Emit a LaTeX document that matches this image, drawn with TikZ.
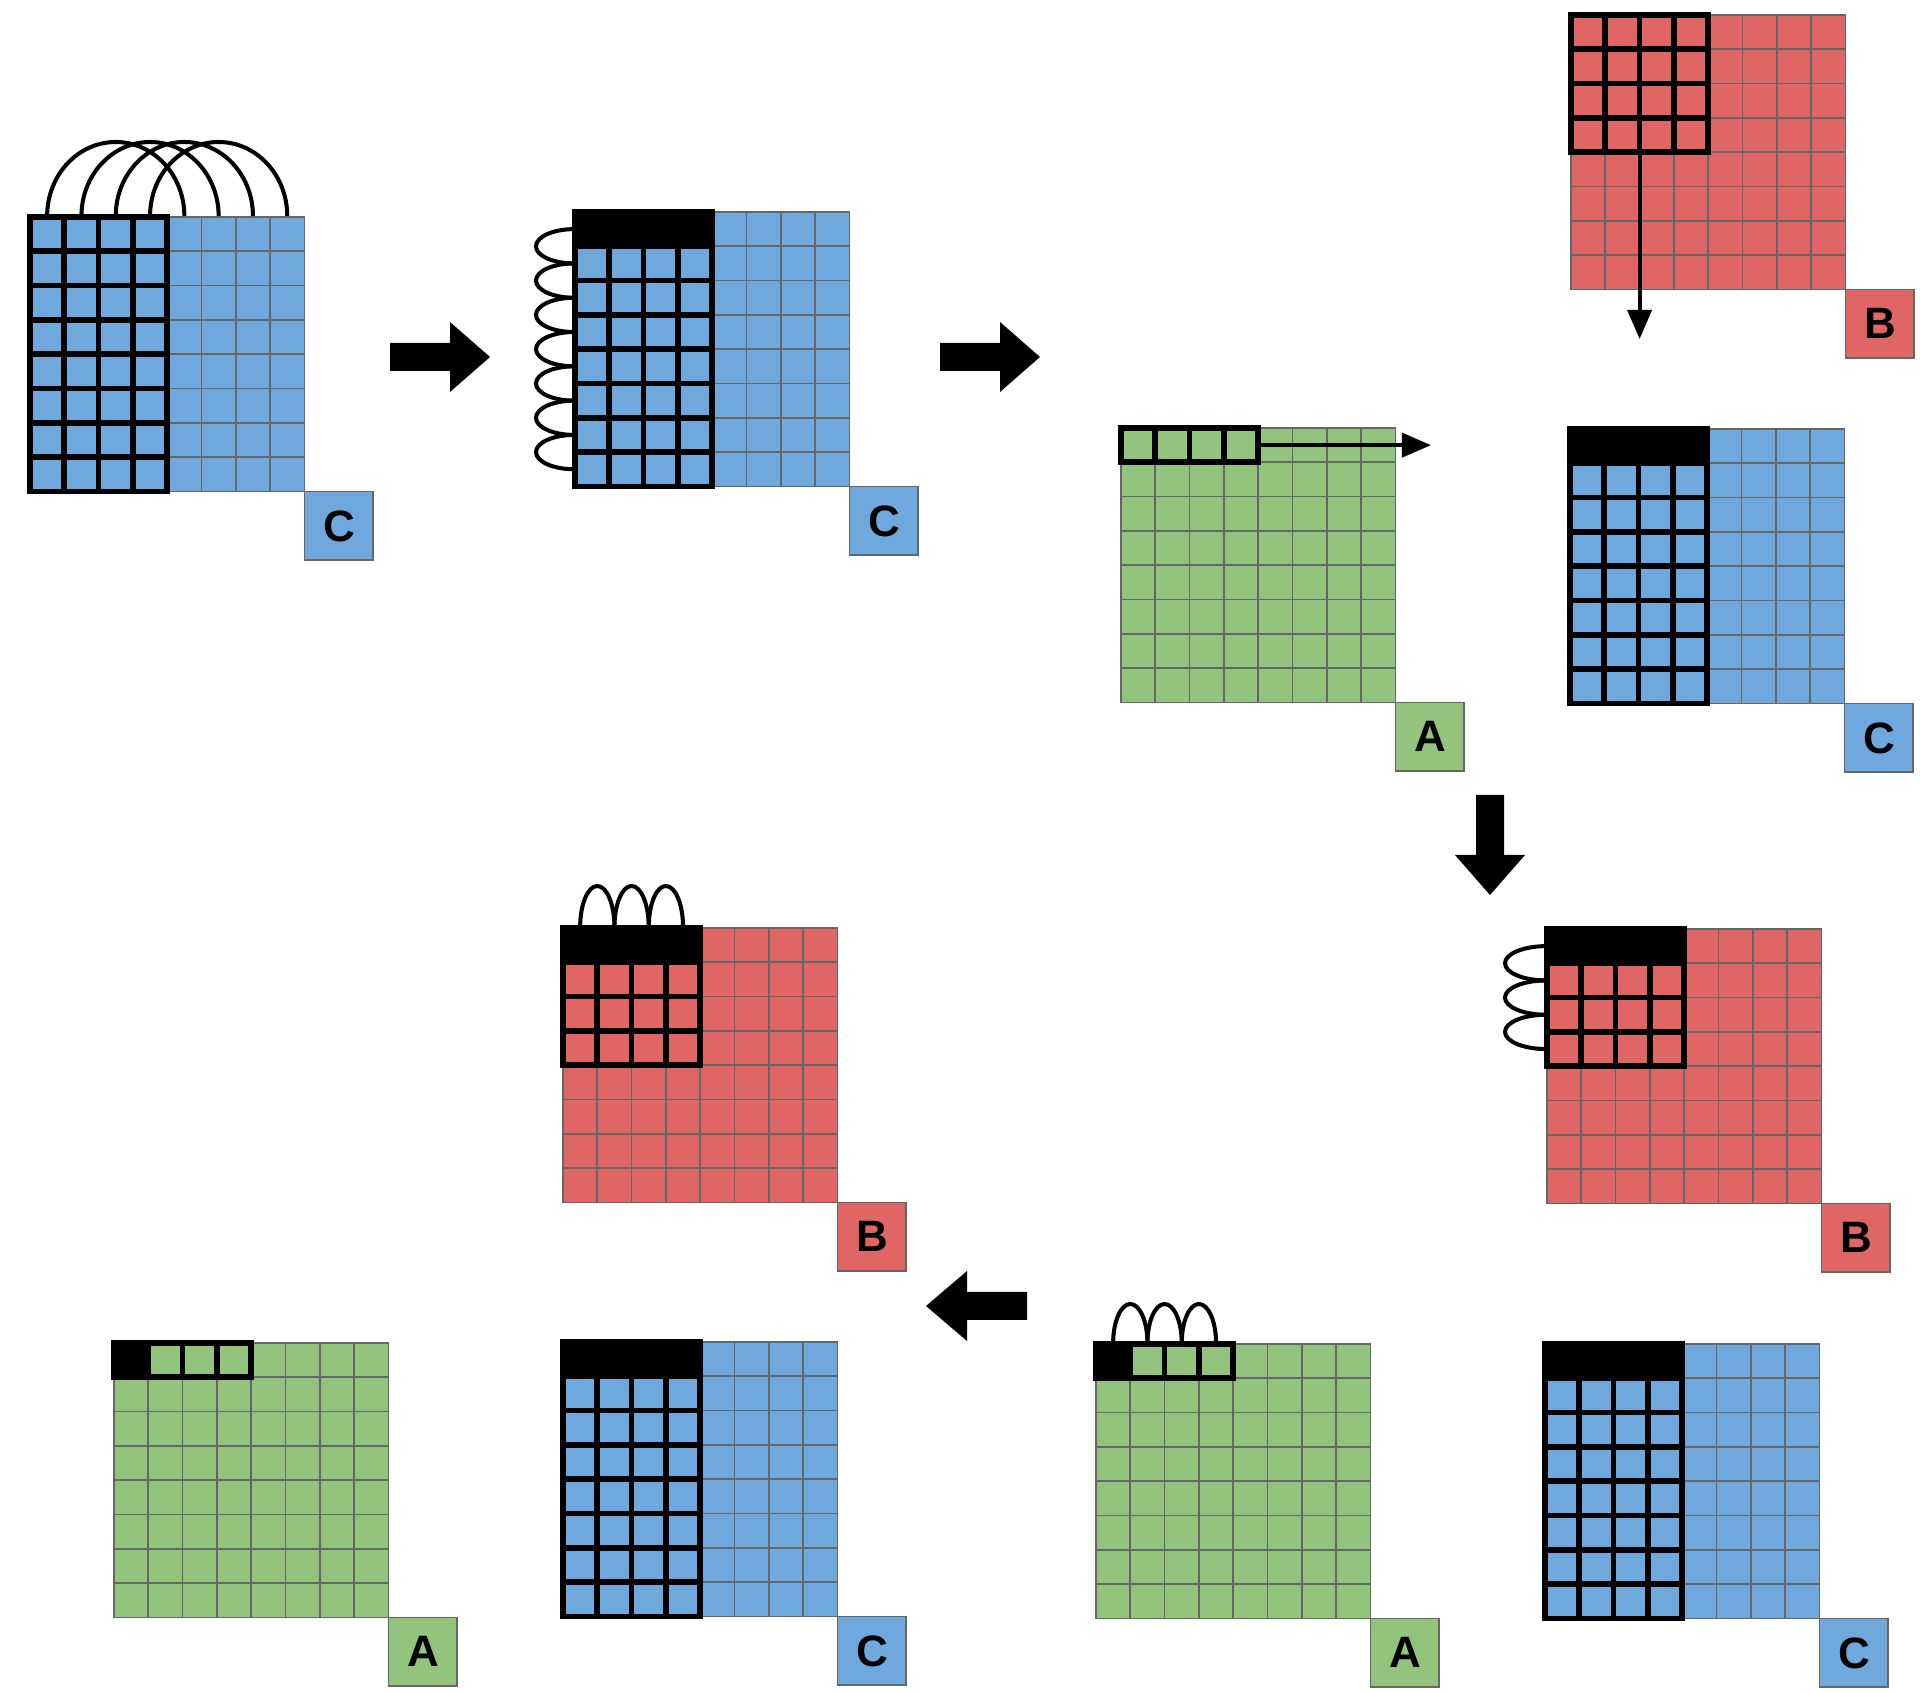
\documentclass[tikz,border=0pt]{standalone}
\usepackage{fontspec}
\newfontfamily\lblfont{Liberation Sans}
\usetikzlibrary{arrows.meta}
\definecolor{cblue}{HTML}{6FA8DC}
\definecolor{cred}{HTML}{E06666}
\definecolor{cgreen}{HTML}{93C47D}
\definecolor{lgray}{HTML}{666666}
\tikzset{
  gridbox/.style={draw=lgray, line width=0.5pt, minimum size=27.44mm, inner sep=0pt, outer sep=0pt, anchor=north west},
  lblbox/.style={draw=lgray, line width=0.5pt, minimum size=6.86mm, inner sep=0pt, outer sep=0pt, anchor=north west, font=\lblfont\bfseries\fontsize{12.5}{12.5}\selectfont},
  thingrid/.style={draw=lgray, line width=0.5pt},
  thickline/.style={draw=black, line width=1.6pt, line cap=rect},
  arcline/.style={draw=black, line width=1.15pt},
  thinarrow/.style={draw=black, line width=1.1pt, -{Triangle[length=2.9mm,width=2.4mm]}},
  bigarrow/.style={fill=black}
}
% grid panel: name, x, y, colour, label
\newcommand{\gridpanel}[5]{%
  \node[gridbox, fill=#4] (#1) at (#2,#3) {};
  \foreach \k in {1,...,7} {
    \draw[thingrid] ({#2+\k*34.3},#3) -- ({#2+\k*34.3},{#3+274.4});
    \draw[thingrid] (#2,{#3+\k*34.3}) -- ({#2+274.4},{#3+\k*34.3});
  }
  \node[lblbox, fill=#4] (#1lbl) at (#1.south east) {#5};
}
% thick block: x, y, ncols, nrows
\newcommand{\thickblock}[4]{%
  \foreach \k in {0,...,#3}
    \draw[thickline] ({#1+\k*34.3},#2) -- ({#1+\k*34.3},{#2+#4*34.3});
  \foreach \k in {0,...,#4}
    \draw[thickline] (#1,{#2+\k*34.3}) -- ({#1+#3*34.3},{#2+\k*34.3});
}
% arc over the top: x start, y base, rx, ry
\newcommand{\toparc}[4]{%
  \draw[arcline] (#1,#2) .. controls (#1,{#2-0.5523*#4}) and ({#1+#3-0.5523*#3},{#2-#4}) .. ({#1+#3},{#2-#4})
    .. controls ({#1+#3+0.5523*#3},{#2-#4}) and ({#1+2*#3},{#2-0.5523*#4}) .. ({#1+2*#3},#2);
}
% loop on the left: x, y start, rx, half height
\newcommand{\leftloop}[4]{%
  \draw[arcline] (#1,#2) .. controls ({#1-0.5523*#3},#2) and ({#1-#3},{#2+#4-0.5523*#4}) .. ({#1-#3},{#2+#4})
    .. controls ({#1-#3},{#2+#4+0.5523*#4}) and ({#1-0.5523*#3},{#2+2*#4}) .. (#1,{#2+2*#4});
}
\begin{document}
\begin{tikzpicture}[x=0.01cm,y=-0.01cm]
\useasboundingbox (0,0) rectangle (1920,1692);

% ---------- panel 1 : C ----------
\gridpanel{p1}{30}{217}{cblue}{C}
\thickblock{30}{217}{4}{8}
\foreach \i [evaluate=\i as \xs using 30+17.15+\i*34.3] in {0,...,3} { \toparc{\xs}{216}{68.6}{74} }

% ---------- panel 2 : C ----------
\gridpanel{p2}{575}{212}{cblue}{C}
\fill[black] (575,212) rectangle ++(137.2,34.3);
\thickblock{575}{212}{4}{8}
\foreach \i [evaluate=\i as \ys using 212+17.15+\i*34.3] in {0,...,6} { \leftloop{574}{\ys}{38}{17.15} }

% ---------- panel 3 : B (top right) ----------
\gridpanel{p3}{1571}{15}{cred}{B}
\thickblock{1571}{15}{4}{4}
\coordinate (p3s) at (1639.6,152.2);
\coordinate (p3e) at (1639.6,339);
\draw[thinarrow] (p3s) -- (p3e);

% ---------- panel 4 : A ----------
\gridpanel{p4}{1121}{428}{cgreen}{A}
\thickblock{1121}{428}{4}{1}
\coordinate (p4s) at (1258.2,445.15);
\coordinate (p4e) at (1431,445.15);
\draw[thinarrow] (p4s) -- (p4e);

% ---------- panel 5 : C ----------
\gridpanel{p5}{1570}{429}{cblue}{C}
\fill[black] (1570,429) rectangle ++(137.2,34.3);
\thickblock{1570}{429}{4}{8}

% ---------- panel 6 : B ----------
\gridpanel{p6}{1547}{929}{cred}{B}
\fill[black] (1547,929) rectangle ++(137.2,34.3);
\thickblock{1547}{929}{4}{4}
\foreach \i [evaluate=\i as \ys using 929+17.15+\i*34.3] in {0,...,2} { \leftloop{1546}{\ys}{41}{17.15} }

% ---------- panel 7 : B ----------
\gridpanel{p7}{563}{928}{cred}{B}
\fill[black] (563,928) rectangle ++(137.2,34.3);
\thickblock{563}{928}{4}{4}
\foreach \i [evaluate=\i as \xs using 563+17.15+\i*34.3] in {0,...,2} { \toparc{\xs}{927}{17.15}{41} }

% ---------- panel 8 : A ----------
\gridpanel{p8}{1096}{1344}{cgreen}{A}
\fill[black] (1096,1344) rectangle ++(34.3,34.3);
\thickblock{1096}{1344}{4}{1}
\foreach \i [evaluate=\i as \xs using 1096+17.15+\i*34.3] in {0,...,2} { \toparc{\xs}{1343}{17.15}{39} }

% ---------- panel 9 : C ----------
\gridpanel{p9}{1545}{1344}{cblue}{C}
\fill[black] (1545,1344) rectangle ++(137.2,34.3);
\thickblock{1545}{1344}{4}{8}

% ---------- panel 10 : C ----------
\gridpanel{p10}{563}{1342}{cblue}{C}
\fill[black] (563,1342) rectangle ++(137.2,34.3);
\thickblock{563}{1342}{4}{8}

% ---------- panel 11 : A ----------
\gridpanel{p11}{114}{1343}{cgreen}{A}
\fill[black] (114,1343) rectangle ++(34.3,34.3);
\thickblock{114}{1343}{4}{1}

% ---------- big arrows ----------
\fill[bigarrow] (390,343) -- (450,343) -- (450,322) -- (490,357) -- (450,392) -- (450,371) -- (390,371) -- cycle;
\fill[bigarrow] (940,343) -- (1000,343) -- (1000,322) -- (1040,357) -- (1000,392) -- (1000,371) -- (940,371) -- cycle;
\fill[bigarrow] (1476,795) -- (1504,795) -- (1504,855) -- (1525,855) -- (1490,895) -- (1455,855) -- (1476,855) -- cycle;
\fill[bigarrow] (1027,1292) -- (967,1292) -- (967,1271) -- (926,1306) -- (967,1341) -- (967,1320) -- (1027,1320) -- cycle;
\end{tikzpicture}
\end{document}
